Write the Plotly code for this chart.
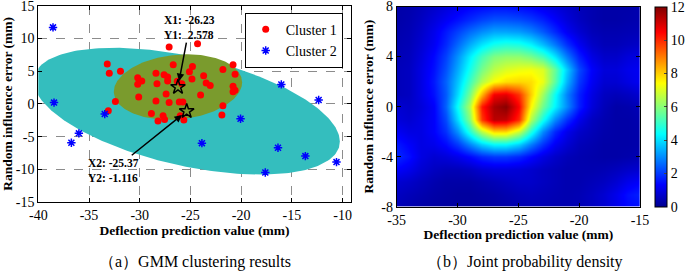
import numpy as np
import plotly.graph_objects as go

# ---------------- data ----------------
c1_x = [-27.1, -24.3, -33.2, -33.0, -31.9, -32.4, -33.1, -30.2, -29.8, -30.2, -30.1,
        -28.4, -27.6, -27.25, -27.25, -28.3, -26.7, -27.4, -28.4, -27.1, -26.1, -25.75,
        -26.3, -25.85, -24.8, -25.1, -24.85, -23.7, -23.45, -23.05, -24.0, -28.85, -27.7,
        -28.2, -27.55, -26.0, -25.65, -21.8, -20.8, -20.6, -20.8, -20.6, -20.8, -21.8, -21.9]
c1_y = [8.7, 9.2, 6.1, 4.7, 5.0, 0.35, -1.05, 4.0, 3.5, 3.0, 1.05,
        4.7, 4.45, 4.1, 3.5, 3.1, 6.0, 1.5, 0.45, 0.2, 0.3, 0.3,
        3.45, 3.1, 5.7, 4.9, 3.8, 4.3, 3.2, 2.8, 1.35, -1.45, -1.8,
        -2.6, -2.4, -1.8, -2.45, 5.25, 6.0, 4.55, 2.7, 2.1, 1.85, -0.3, -1.7]
c2_x = [-38.55, -38.45, -33.45, -36.0, -36.74, -23.87, -16.04, -12.36, -20.06,
        -16.37, -13.67, -10.6, -17.62]
c2_y = [11.7, 0.2, -1.56, -4.5, -5.95, -6.0, 2.98, 0.6, -2.27,
        -6.7, -7.98, -8.9, -10.5]

mean1 = [-26.23, 2.578]
mean2 = [-25.37, -1.116]
cov1 = [[40.0, 4.5], [4.5, 25.0]]
cov2 = [[228.0, -70.0], [-70.0, 94.0]]

left_xticks = [-40, -35, -30, -25, -20, -15, -10]
left_xtext = ["-40", "-35", "-30", "-25", "-20", "-15", "-10"]
left_yticks = [-15, -10, -5, 0, 5, 10, 15]
left_ytext = ["-15", "-10", "-5", "0", "5", "10", "15"]

grid_x = list(range(-35, -14))          # -35 .. -15
grid_y = list(range(-8, 9))             # -8 .. 8
density = [
    [0.5, 0.4, 0.3, 0.25, 0.2, 0.2, 0.2, 0.2, 0.25, 0.3, 0.4, 0.45, 0.45, 0.4, 0.4, 0.45, 0.6, 0.8, 1.1, 1.4, 1.5],
    [0.6, 0.5, 0.4, 0.3, 0.25, 0.2, 0.2, 0.25, 0.3, 0.4, 0.5, 0.55, 0.5, 0.45, 0.4, 0.45, 0.6, 0.8, 1.1, 1.5, 1.7],
    [0.8, 0.7, 0.55, 0.4, 0.3, 0.3, 0.3, 0.4, 0.5, 0.6, 0.7, 0.7, 0.6, 0.5, 0.4, 0.4, 0.5, 0.6, 0.8, 1.1, 1.3],
    [1.3, 1.1, 0.8, 0.6, 0.5, 0.5, 0.6, 0.8, 0.9, 0.9, 0.85, 0.75, 0.6, 0.5, 0.4, 0.4, 0.4, 0.45, 0.55, 0.7, 0.8],
    [1.8, 1.5, 1.0, 0.8, 0.9, 1.1, 1.4, 1.8, 2.0, 2.0, 1.8, 1.4, 1.0, 0.7, 0.5, 0.4, 0.35, 0.3, 0.3, 0.35, 0.45],
    [1.6, 1.3, 1.0, 1.1, 1.4, 2.0, 2.9, 3.8, 4.3, 4.3, 3.8, 2.8, 1.9, 1.2, 0.8, 0.5, 0.4, 0.3, 0.3, 0.3, 0.35],
    [1.2, 1.0, 1.0, 1.3, 1.9, 3.1, 4.8, 6.6, 7.9, 7.9, 6.8, 4.8, 3.0, 1.8, 1.1, 0.7, 0.5, 0.35, 0.3, 0.3, 0.35],
    [0.9, 0.8, 1.0, 1.3, 2.2, 4.0, 6.0, 9.8, 11.3, 11.2, 10.0, 6.5, 4.6, 3.0, 1.9, 1.1, 0.6, 0.4, 0.3, 0.3, 0.4],
    [0.8, 0.7, 0.9, 1.3, 2.5, 4.5, 6.5, 10.2, 11.5, 11.9, 10.5, 7.5, 5.7, 4.3, 3.0, 1.7, 0.9, 0.5, 0.3, 0.35, 0.5],
    [0.5, 0.6, 1.0, 1.5, 2.4, 4.0, 5.8, 8.3, 10.6, 10.8, 9.9, 8.0, 6.3, 4.5, 2.9, 1.7, 1.0, 0.6, 0.5, 0.6, 0.8],
    [0.5, 0.6, 1.0, 1.6, 2.5, 3.7, 5.1, 6.5, 7.4, 7.8, 7.9, 7.8, 7.2, 5.5, 3.5, 2.0, 1.2, 0.8, 0.8, 1.0, 1.2],
    [0.5, 0.6, 1.0, 1.5, 2.3, 3.4, 4.6, 5.8, 6.6, 7.0, 7.2, 7.3, 7.0, 5.6, 3.8, 2.2, 1.3, 0.9, 0.9, 1.1, 1.2],
    [0.45, 0.55, 0.9, 1.4, 2.1, 3.1, 4.2, 5.2, 5.9, 6.1, 6.1, 5.8, 5.2, 4.1, 2.8, 1.7, 1.0, 0.7, 0.7, 0.9, 1.0],
    [0.4, 0.5, 0.8, 1.2, 1.8, 2.6, 3.4, 4.1, 4.6, 4.8, 4.7, 4.3, 3.6, 2.8, 1.9, 1.2, 0.7, 0.5, 0.5, 0.6, 0.7],
    [0.35, 0.45, 0.7, 1.1, 1.6, 2.1, 2.6, 3.0, 3.3, 3.3, 3.2, 2.9, 2.4, 1.8, 1.2, 0.8, 0.5, 0.4, 0.4, 0.45, 0.5],
    [0.3, 0.4, 0.6, 0.9, 1.2, 1.5, 1.8, 2.1, 2.3, 2.3, 2.2, 2.0, 1.7, 1.3, 0.9, 0.6, 0.4, 0.3, 0.3, 0.35, 0.4],
    [0.3, 0.35, 0.5, 0.7, 0.9, 1.1, 1.3, 1.4, 1.5, 1.5, 1.4, 1.3, 1.1, 0.9, 0.7, 0.5, 0.4, 0.3, 0.3, 0.3, 0.4],
]
right_xticks = [-35, -30, -25, -20, -15]
right_xtext = ["-35", "-30", "-25", "-20", "-15"]
right_yticks = [-8, -4, 0, 4, 8]
right_ytext = ["-8", "-4", "0", "4", "8"]
cbar_ticks = [0, 2, 4, 6, 8, 10, 12]

caption_a = "（a）GMM clustering results"
caption_b = "（b）Joint probability density"

# ---------------- helpers ----------------
def ellipse(mean, cov, n=240):
    L = np.linalg.cholesky(np.array(cov))
    t = np.linspace(0, 2 * np.pi, n)
    pts = L @ np.vstack([np.cos(t), np.sin(t)])
    return mean[0] + pts[0], mean[1] + pts[1]

FONT = "Liberation Serif"
W, H = 685, 277

def px_dom(a, b):
    return [a / W, b / W]

def py_dom(top, bottom):
    return [1 - bottom / H, 1 - top / H]

jet = [[0.0, "rgb(0,0,143)"], [0.111, "rgb(0,0,255)"], [0.365, "rgb(0,255,255)"],
       [0.619, "rgb(255,255,0)"], [0.873, "rgb(255,0,0)"], [1.0, "rgb(128,0,0)"]]

fig = go.Figure()

e2x, e2y = ellipse(mean2, cov2)
e1x, e1y = ellipse(mean1, cov1)
fig.add_trace(go.Scatter(x=e2x, y=e2y, mode="lines", fill="toself",
                         fillcolor="rgb(52,190,190)", line=dict(width=0),
                         showlegend=False, hoverinfo="skip", xaxis="x", yaxis="y"))
fig.add_trace(go.Scatter(x=e1x, y=e1y, mode="lines", fill="toself",
                         fillcolor="rgb(122,155,45)", line=dict(width=0),
                         showlegend=False, hoverinfo="skip", xaxis="x", yaxis="y"))
fig.add_trace(go.Scatter(x=c1_x, y=c1_y, mode="markers", name="Cluster 1",
                         marker=dict(color="rgb(255,0,0)", size=7, symbol="circle"),
                         xaxis="x", yaxis="y"))
fig.add_trace(go.Scatter(x=c2_x, y=c2_y, mode="markers", name="Cluster 2",
                         marker=dict(color="rgb(0,0,255)", size=7, symbol="asterisk-open",
                                     line=dict(color="rgb(0,0,255)", width=1.5)),
                         xaxis="x", yaxis="y"))
fig.add_trace(go.Scatter(x=[mean1[0], mean2[0]], y=[mean1[1], mean2[1]], mode="markers",
                         marker=dict(color="black", size=11, symbol="star-open",
                                     line=dict(color="black", width=1.5)),
                         showlegend=False, xaxis="x", yaxis="y"))

fig.add_trace(go.Heatmap(x=grid_x, y=grid_y, z=density, zsmooth="best",
                         colorscale=jet, zmin=0, zmax=12, xaxis="x2", yaxis="y2",
                         colorbar=dict(x=655 / W, xanchor="left", thickness=12,
                                       thicknessmode="pixels",
                                       len=200, lenmode="pixels",
                                       y=1 - 106.7 / H, yanchor="middle",
                                       tickvals=cbar_ticks, ticks="inside", ticklen=3,
                                       ticklabeloverflow="allow",
                                       outlinecolor="black", outlinewidth=1,
                                       tickfont=dict(family=FONT, size=14, color="black"),
                                       xpad=0, ypad=0)))

axis_common = dict(showline=True, linecolor="black", linewidth=1, mirror="ticks",
                   ticks="inside", ticklen=4, tickcolor="black",
                   tickfont=dict(family=FONT, size=14, color="black"),
                   ticklabeloverflow="allow",
                   zeroline=False, layer="above traces")
title_font = dict(family=FONT, size=13.5, color="black")

fig.update_layout(
    width=W, height=H, margin=dict(l=0, r=0, t=0, b=0, autoexpand=False),
    paper_bgcolor="white", plot_bgcolor="white",
    font=dict(family=FONT, color="black"),
    xaxis=dict(domain=px_dom(38.3, 350.7), range=[-40, -9.2],
               tickvals=left_xticks, ticktext=left_xtext,
               showgrid=True, gridcolor="rgb(140,140,140)", griddash="dash", gridwidth=1,
               title=dict(text="<b>Deflection prediction value (mm)</b>",
                          font=title_font, standoff=3),
               anchor="y", **axis_common),
    yaxis=dict(domain=py_dom(5.8, 202), range=[-15, 15],
               tickvals=left_yticks, ticktext=left_ytext,
               showgrid=True, gridcolor="rgb(140,140,140)", griddash="dash", gridwidth=1,
               title=dict(text="<b>Random influence error (mm)</b>",
                          font=title_font, standoff=4),
               anchor="x", **axis_common),
    xaxis2=dict(domain=px_dom(396.7, 640), range=[-35, -15],
                tickvals=right_xticks, ticktext=right_xtext, showgrid=False,
                title=dict(text="<b>Deflection prediction value (mm)</b>",
                           font=title_font, standoff=3),
                anchor="y2", **axis_common),
    yaxis2=dict(domain=py_dom(6.5, 206.7), range=[-8, 8],
                tickvals=right_yticks, ticktext=right_ytext, showgrid=False,
                title=dict(text="<b>Random influence error (mm)</b>",
                           font=title_font, standoff=4),
                anchor="x2", **axis_common),
    legend=dict(x=342.7 / W, xanchor="right", y=1 - 12.7 / H, yanchor="top",
                bgcolor="white", bordercolor="black", borderwidth=1,
                font=dict(family=FONT, size=14, color="black"),
                tracegroupgap=0, itemwidth=30),
    showlegend=True,
)

ann_font = dict(family=FONT, size=11.5, color="black")
fig.add_annotation(x=mean1[0], y=mean1[1], xref="x", yref="y",
                   ax=-25.12, ay=11.67, axref="x", ayref="y",
                   text="<b>X1: -26.23<br>Y1:&nbsp;&nbsp;2.578</b>", align="left",
                   showarrow=True, arrowhead=2, arrowsize=1, arrowwidth=1.5,
                   arrowcolor="black", standoff=6, font=ann_font)
fig.add_annotation(x=mean2[0], y=mean2[1], xref="x", yref="y",
                   ax=-32.63, ay=-10.15, axref="x", ayref="y",
                   text="<b>X2: -25.37<br>Y2: -1.116</b>", align="left",
                   showarrow=True, arrowhead=2, arrowsize=1, arrowwidth=1.5,
                   arrowcolor="black", standoff=6, font=ann_font)

cap_font = dict(family=FONT, size=16, color="black")
fig.add_annotation(x=195 / W, y=1 - 262 / H, xref="paper", yref="paper",
                   xanchor="center", yanchor="middle",
                   text=caption_a, showarrow=False, font=cap_font)
fig.add_annotation(x=525 / W, y=1 - 262 / H, xref="paper", yref="paper",
                   xanchor="center", yanchor="middle",
                   text=caption_b, showarrow=False, font=cap_font)

fig.write_html("out.html", config={"displayModeBar": False},
               post_script="document.body.style.margin='0';document.body.style.padding='0';"
                           "document.body.style.overflow='hidden';")
